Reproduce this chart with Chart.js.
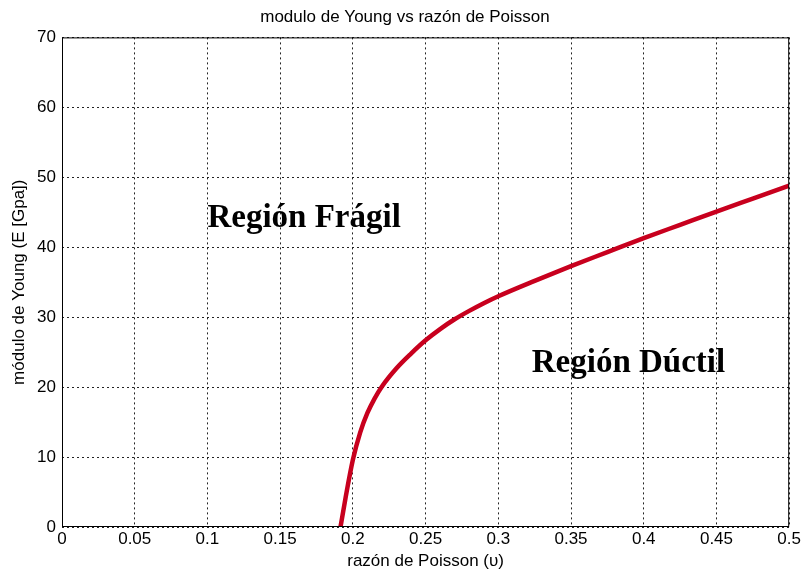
<!DOCTYPE html>
<html>
<head>
<meta charset="utf-8">
<script src="https://cdn.jsdelivr.net/npm/chart.js@4/dist/chart.umd.min.js"></script>
<style>
  html, body { margin: 0; padding: 0; background: #fff; }
  #wrap { width: 803px; height: 576px; }
</style>
</head>
<body>
<div id="wrap"><canvas id="chart" width="803" height="576"></canvas></div>
<script>
// Poisson ratio vs Young modulus
const poisson = [0.1915, 0.195, 0.2, 0.205, 0.21, 0.215, 0.22, 0.23, 0.24, 0.25, 0.26, 0.27, 0.28, 0.29, 0.3, 0.325, 0.35, 0.375, 0.4, 0.425, 0.45, 0.475, 0.5];
const young = [0, 4.2, 9.6, 13.5, 16.3, 18.4, 20.1, 22.7, 24.8, 26.7, 28.3, 29.7, 30.9, 32.0, 33.0, 35.2, 37.3, 39.3, 41.3, 43.2, 45.1, 46.95, 48.8];

// region labels: [text, x, y] (baseline position in data units)
const regionLabels = [
  ["Región Frágil", 0.1, 42.9],
  ["Región Dúctil", 0.323, 22.2]
];

const boxPlugin = {
  id: "box",
  afterLayout(chart) {
    // MATLAB centres the title a bit further right than the canvas middle
    if (chart.titleBlock) {
      chart.titleBlock.left += 20;
    }
  },
  afterDraw(chart) {
    const { ctx, chartArea: a, scales } = chart;
    ctx.save();
    ctx.strokeStyle = "#000";
    ctx.lineWidth = 1;
    ctx.strokeRect(a.left + 0.5, a.top + 0.5, a.right - a.left - 1, a.bottom - a.top - 1);
    // region text
    ctx.fillStyle = "#000";
    ctx.font = "bold 33px 'Liberation Serif', 'Times New Roman', serif";
    ctx.textBaseline = "alphabetic";
    ctx.textAlign = "left";
    regionLabels.forEach(([t, x, y]) => {
      ctx.fillText(t, scales.x.getPixelForValue(x), scales.y.getPixelForValue(y));
    });
    ctx.restore();
  }
};

const font = { family: "'Liberation Sans', Arial, sans-serif", size: 17 };

new Chart(document.getElementById("chart"), {
  type: "line",
  data: {
    datasets: [{
      data: poisson.map((p, i) => ({ x: p, y: young[i] })),
      borderColor: "rgb(200, 0, 30)",
      borderWidth: 4.5,
      pointRadius: 0,
      cubicInterpolationMode: "monotone",
      fill: false
    }]
  },
  options: {
    responsive: false,
    animation: false,
    layout: { padding: { left: 0, right: 13, top: 0, bottom: 0 } },
    plugins: {
      legend: { display: false },
      tooltip: { enabled: false },
      title: {
        display: true,
        text: "modulo de Young vs razón de Poisson",
        color: "#000",
        font: { ...font, weight: "normal" },
        padding: { top: 7, bottom: 10 }
      }
    },
    scales: {
      x: {
        type: "linear",
        min: 0,
        max: 0.5,
        ticks: {
          stepSize: 0.05,
          color: "#000",
          font,
          padding: 2,
          maxRotation: 0,
          callback: v => Number(v.toFixed(2)).toString()
        },
        grid: { color: "#222", lineWidth: 1, drawTicks: false, tickLength: 0 },
        border: { display: false, dash: [2, 3] },
        title: { display: true, text: "razón de Poisson (υ)", color: "#000", font, padding: { top: 0, bottom: 4 } },
        afterFit(s) { s.height = 49; }
      },
      y: {
        min: 0,
        max: 70,
        ticks: { stepSize: 10, color: "#000", font, padding: 6 },
        grid: { color: "#222", lineWidth: 1, drawTicks: false, tickLength: 0 },
        border: { display: false, dash: [2, 3] },
        title: { display: true, text: "módulo de Young (E [Gpa])", color: "#000", font, padding: { top: 9, bottom: 0 } },
        afterFit(s) { s.width = 62; }
      }
    }
  },
  plugins: [boxPlugin]
});
</script>
</body>
</html>
